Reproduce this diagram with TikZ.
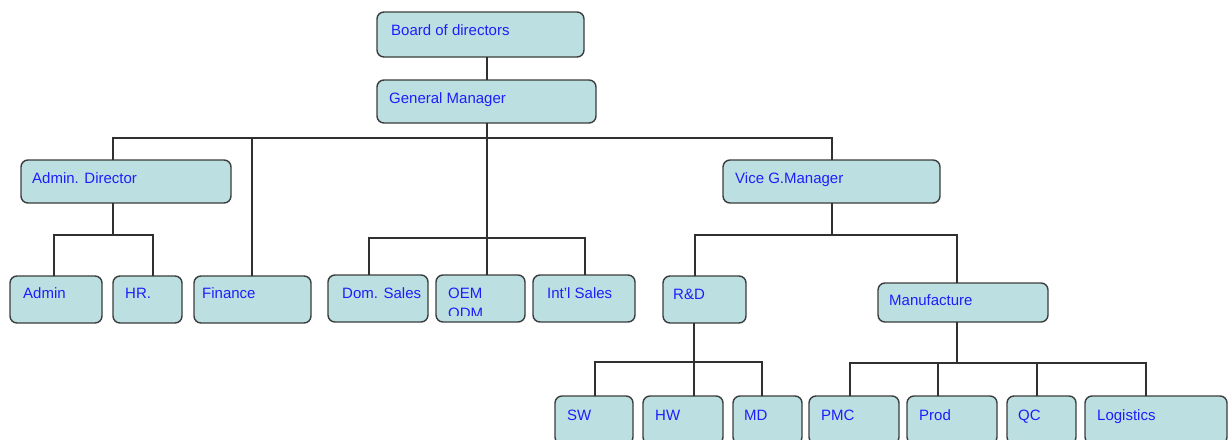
\documentclass[tikz,border=0pt]{standalone}
\usepackage{fontspec}
\setmainfont{Liberation Sans}
\definecolor{boxfill}{RGB}{188,224,226}
\definecolor{boxline}{RGB}{60,60,60}
\definecolor{txtblue}{RGB}{30,30,250}
\tikzset{
  orgbox/.style={draw=boxline, fill=boxfill, line width=1.4pt, rounded corners=7pt, inner sep=0pt, outer sep=0pt},
  lbl/.style={text=txtblue, inner sep=0pt, anchor=base west, font=\fontsize{15}{17}\selectfont},
  conn/.style={draw=boxline!80!black, line width=1.3pt}
}
\newcommand\orgb[5]{\node[orgbox, anchor=north west, minimum width={(#4-#2)*1pt}, minimum height={(#5-#3)*1pt}] (#1) at (#2,#3) {};}
\newcommand\orgt[4]{\node[lbl] (#1) at (#2,#3) {#4};}
\begin{document}
\begin{tikzpicture}[x=1pt, y=-1pt]
\clip (0,0) rectangle (1230,439);
\fill[white] (0,0) rectangle (1230,439);
% junction coordinates
\coordinate (g1) at (487,0);
\coordinate (b1) at (113,138);
\coordinate (b1f) at (252,138);
\coordinate (b1r) at (832,138);
\coordinate (b2) at (113,235);
\coordinate (b2l) at (54,235);
\coordinate (b2r) at (153,235);
\coordinate (s1l) at (369,238);
\coordinate (s1r) at (585,238);
\coordinate (v1) at (832,235);
\coordinate (v1l) at (695,235);
\coordinate (v1r) at (957,235);
\coordinate (r1) at (694,362);
\coordinate (r1l) at (595,362);
\coordinate (r1r) at (762,362);
\coordinate (m1) at (957,363);
\coordinate (m1l) at (850,363);
\coordinate (m1a) at (938,363);
\coordinate (m1b) at (1037,363);
\coordinate (m1r) at (1146,363);
% boxes
\orgb{bod}{377}{12}{584}{57}
\orgb{gm}{377}{80}{596}{123}
\orgb{ad}{21}{160}{231}{203}
\orgb{vgm}{723}{160}{940}{203}
\orgb{admin}{10}{276}{102}{323}
\orgb{hr}{113}{276}{182}{323}
\orgb{fin}{194}{276}{311}{323}
\orgb{dom}{328}{275}{428}{322}
\orgb{oem}{436}{275}{525}{322}
\orgb{intl}{533}{275}{635}{322}
\orgb{rd}{663}{276}{746}{323}
\orgb{mfg}{878}{283}{1048}{322}
\orgb{sw}{555}{396}{633}{444}
\orgb{hw}{643}{396}{723}{444}
\orgb{md}{733}{396}{802}{444}
\orgb{pmc}{809}{396}{899}{444}
\orgb{prod}{907}{396}{997}{444}
\orgb{qc}{1007}{396}{1076}{444}
\orgb{log}{1085}{396}{1227}{444}
% connectors
\draw[conn] (bod.south -| g1) -- (gm.north -| g1);
\draw[conn] (gm.south -| g1) -- (oem.north -| g1);
\draw[conn] (ad.north -| b1) -- (b1) -- (b1r) -- (vgm.north -| b1r);
\draw[conn] (b1f) -- (fin.north -| b1f);
\draw[conn] (ad.south -| b2) -- (b2);
\draw[conn] (admin.north -| b2l) |- (b2r) -- (hr.north -| b2r);
\draw[conn] (dom.north -| s1l) |- (s1r) -- (intl.north -| s1r);
\draw[conn] (vgm.south -| v1) -- (v1);
\draw[conn] (rd.north -| v1l) |- (v1r) -- (mfg.north -| v1r);
\draw[conn] (rd.south -| r1) -- (hw.north -| r1);
\draw[conn] (sw.north -| r1l) |- (r1r) -- (md.north -| r1r);
\draw[conn] (mfg.south -| m1) -- (m1);
\draw[conn] (pmc.north -| m1l) |- (m1r) -- (log.north -| m1r);
\draw[conn] (m1a) -- (prod.north -| m1a);
\draw[conn] (m1b) -- (qc.north -| m1b);
% labels
\orgt{bodt}{391}{35}{Board of directors}
\orgt{gmt}{389}{103}{General Manager}
\orgt{adt}{32}{183}{Admin. Director}
\orgt{vgmt}{735}{183}{Vice G.Manager}
\orgt{admint}{23}{298}{Admin}
\orgt{hrt}{125}{298}{HR.}
\orgt{fint}{202}{298}{Finance}
\orgt{domt}{342}{298}{Dom. Sales}
\orgt{oemt}{448}{298}{OEM}
\begin{scope}
\clip (436,300) rectangle (525,315);
\orgt{odmt}{448}{318}{ODM}
\end{scope}
\orgt{intlt}{547}{298}{Int'l Sales}
\orgt{rdt}{673}{299}{R\&D}
\orgt{mfgt}{889}{305}{Manufacture}
\orgt{swt}{567}{420}{SW}
\orgt{hwt}{655}{420}{HW}
\orgt{mdt}{744}{420}{MD}
\orgt{pmct}{821}{420}{PMC}
\orgt{prodt}{919}{420}{Prod}
\orgt{qct}{1018}{420}{QC}
\orgt{logt}{1097}{420}{Logistics}
\end{tikzpicture}
\end{document}
